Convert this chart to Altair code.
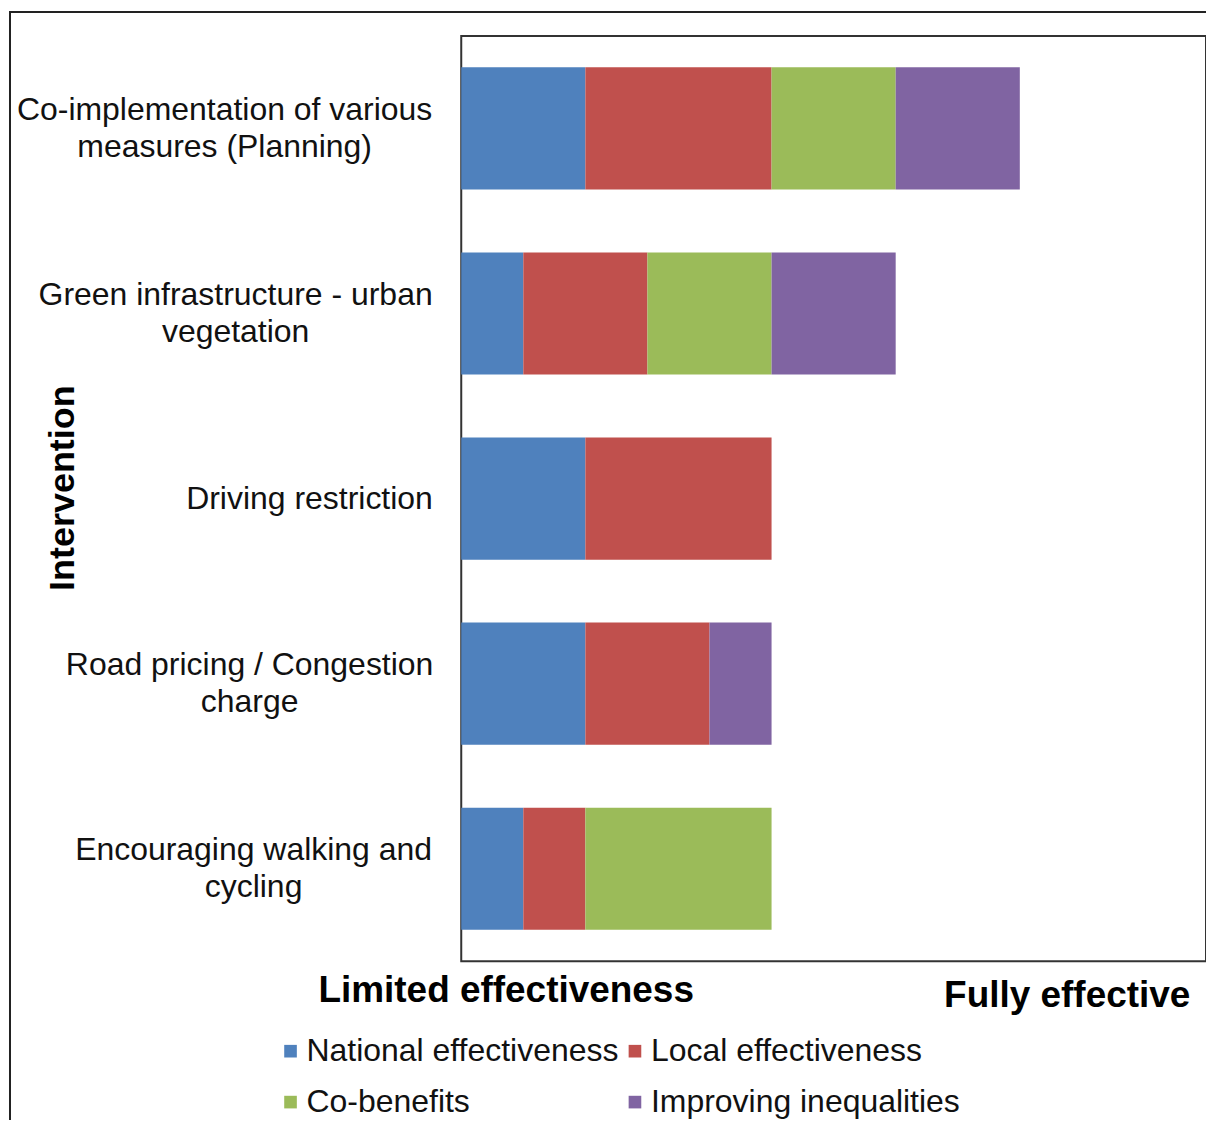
import altair as alt
import pandas as pd

categories = [
    "Co-implementation of various measures (Planning)",
    "Green infrastructure - urban vegetation",
    "Driving restriction",
    "Road pricing / Congestion charge",
    "Encouraging walking and cycling",
]
label_lines = [
    "Co-implementation of various\nmeasures (Planning)",
    "Green infrastructure - urban\nvegetation",
    "Driving restriction",
    "Road pricing / Congestion\ncharge",
    "Encouraging walking and\ncycling",
]
series = ["National effectiveness", "Local effectiveness", "Co-benefits", "Improving inequalities"]
national = [2, 1, 2, 2, 1]
local = [3, 2, 3, 2, 1]
co_benefits = [2, 2, 0, 0, 3]
inequalities = [2, 2, 0, 1, 0]
colors = ["#4F81BD", "#C0504D", "#9BBB59", "#8064A2"]
x_max = 12

# layout constants (pixel centres of the wrapped category labels, relative to plot left)
label_centers = [-237, -226, -152, -212, -208]

rows = []
for i, cat in enumerate(categories):
    for j, (s, vals) in enumerate(zip(series, [national, local, co_benefits, inequalities])):
        if vals[i] > 0:
            rows.append({"cat": cat, "series": s, "value": vals[i], "ord": j})
df = pd.DataFrame(rows)

lab_df = pd.DataFrame({"cat": categories, "txt": label_lines, "lx": label_centers})

FONT = "Liberation Sans"

yscale = alt.Scale(domain=categories, paddingInner=0.34, paddingOuter=0.17)

bars = alt.Chart(df).mark_bar(stroke=None).encode(
    x=alt.X("value:Q", stack="zero", scale=alt.Scale(domain=[0, x_max], nice=False), axis=None),
    y=alt.Y("cat:N", sort=categories, scale=yscale, axis=None),
    color=alt.Color(
        "series:N",
        scale=alt.Scale(domain=series, range=colors),
        legend=alt.Legend(
            orient="none", legendX=-187, legendY=1001, columns=2, direction="horizontal",
            title=None, symbolType="square", symbolSize=160, symbolStrokeWidth=0,
            labelFontSize=32, labelFont=FONT, labelColor="#111",
            columnPadding=0, rowPadding=19, labelOffset=0, labelLimit=600,
        ),
    ),
    order=alt.Order("ord:Q"),
)

label_base = alt.Chart(lab_df).encode(
    x=alt.X("lx:Q", scale=None, axis=None),
    y=alt.Y("cat:N", sort=categories, scale=yscale, axis=None),
    text="txt:N",
)
text_style = dict(align="center", baseline="middle", fontSize=32, lineHeight=37,
                  font=FONT, color="#111", lineBreak="\n")
labels_one = label_base.mark_text(**text_style).transform_filter(
    "indexof(datum.txt, '\\n') < 0"
)
labels_two = label_base.mark_text(dy=-18.5, **text_style).transform_filter(
    "indexof(datum.txt, '\\n') >= 0"
)

one = alt.Data(values=[{"a": 1}])

title_left = alt.Chart(one).mark_text(
    text="Limited effectiveness", align="center", baseline="middle",
    fontSize=37, fontWeight="bold", font=FONT, color="#000",
).encode(x=alt.value(45), y=alt.value(957))

title_right = alt.Chart(one).mark_text(
    text="Fully effective", align="center", baseline="middle",
    fontSize=37, fontWeight="bold", font=FONT, color="#000",
).encode(x=alt.value(607), y=alt.value(962))

title_y = alt.Chart(one).mark_text(
    text="Intervention", align="center", baseline="middle", angle=270,
    fontSize=36, fontWeight="bold", font=FONT, color="#000",
).encode(x=alt.value(-399), y=alt.value(453))

border = alt.Chart(one).mark_rect(fill=None, stroke="#222", strokeWidth=2).encode(
    x=alt.value(-452), x2=alt.value(900), y=alt.value(-24), y2=alt.value(1300)
)

chart = alt.layer(border, bars, labels_one, labels_two, title_left, title_right, title_y).resolve_scale(
    x="independent"
).properties(
    width=746,
    height=927,
    autosize=alt.AutoSizeParams(type="none"),
    padding={"left": 454, "top": 27, "right": 0, "bottom": 158},
).configure(
    font=FONT
).configure_view(
    stroke="#333", strokeWidth=2
)

chart.save("out.html", embed_options={"renderer": "svg", "actions": False})
